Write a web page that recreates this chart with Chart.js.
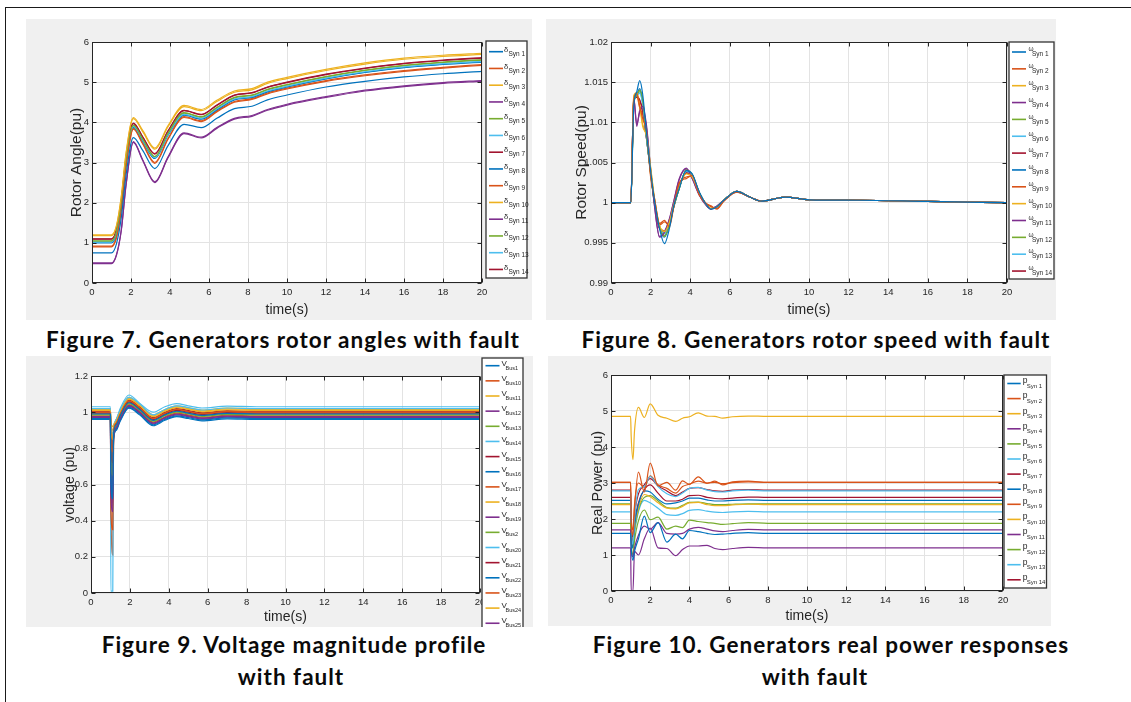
<!DOCTYPE html>
<html>
<head>
<meta charset="utf-8">
<script src="https://cdn.jsdelivr.net/npm/chart.js@4.4.0/dist/chart.umd.min.js"></script>
<style>
body { margin: 0; background: #fff; width: 1131px; height: 702px; overflow: hidden; position: relative; }
#frame { position: absolute; left: 5px; top: 7px; width: 1130px; height: 700px; border-top: 1.5px solid #1a1a1a; border-left: 1.5px solid #1a1a1a; }
canvas { position: absolute; }
.cap { position: absolute; width: 560px; line-height: 24px; text-align: center; white-space: nowrap;
       font-family: Lato, 'Open Sans', sans-serif; font-weight: bold; font-size: 22.5px; letter-spacing: 1px; color: #0a0a0a; }
</style>
</head>
<body>
<div id="frame"></div>
<canvas id="c1" width="506" height="301" style="left:26px;top:19px"></canvas>
<canvas id="c2" width="510" height="301" style="left:546px;top:19px"></canvas>
<canvas id="c3" width="507" height="271" style="left:26px;top:356px"></canvas>
<canvas id="c4" width="503" height="270" style="left:548px;top:356px"></canvas>
<div class="cap" style="left:3px;top:328px">Figure 7. Generators rotor angles with fault</div>
<div class="cap" style="left:536px;top:328px">Figure 8. Generators rotor speed with fault</div>
<div class="cap" style="left:14px;top:633px">Figure 9. Voltage magnitude profile</div>
<div class="cap" style="left:11px;top:665px">with fault</div>
<div class="cap" style="left:551px;top:633px">Figure 10. Generators real power responses</div>
<div class="cap" style="left:535px;top:665px">with fault</div>
<script>
// ---------- Figure 7: rotor angle (pu) ----------
var tAngle = [0, 1, 1.25, 1.5, 1.75, 2.12, 2.6, 3.22, 3.9, 4.72, 5.6, 6.4, 7.3, 8.2, 9, 10, 12, 14, 16, 18, 20];
var angleNames = ['Syn 1','Syn 2','Syn 3','Syn 4','Syn 5','Syn 6','Syn 7','Syn 8','Syn 9','Syn 10','Syn 11','Syn 12','Syn 13','Syn 14'];
var angleSyn1  = [0.75, 0.75, 0.97, 1.62, 2.7, 3.62, 3.3, 2.85, 3.42, 3.95, 3.87, 4.1, 4.34, 4.4, 4.56, 4.68, 4.88, 5.02, 5.13, 5.21, 5.27];
var angleSyn2  = [0.9, 0.9, 1.12, 1.8, 2.9, 3.83, 3.46, 2.98, 3.58, 4.12, 4.02, 4.26, 4.5, 4.57, 4.71, 4.83, 5.02, 5.16, 5.27, 5.35, 5.42];
var angleSyn3  = [1.2, 1.2, 1.42, 2.15, 3.25, 4.12, 3.8, 3.36, 3.92, 4.42, 4.32, 4.55, 4.78, 4.84, 5.0, 5.12, 5.32, 5.48, 5.6, 5.67, 5.72];
var angleSyn4  = [0.48, 0.48, 0.68, 1.3, 2.45, 3.5, 3.05, 2.5, 3.12, 3.72, 3.61, 3.85, 4.08, 4.15, 4.3, 4.43, 4.62, 4.78, 4.89, 4.97, 5.02];
var angleSyn5  = [1.05, 1.05, 1.27, 1.98, 3.08, 3.93, 3.58, 3.15, 3.73, 4.24, 4.14, 4.37, 4.62, 4.68, 4.82, 4.94, 5.14, 5.3, 5.42, 5.5, 5.56];
var angleSyn6  = [1.02, 1.02, 1.24, 1.95, 3.05, 3.9, 3.55, 3.12, 3.7, 4.2, 4.1, 4.33, 4.58, 4.64, 4.78, 4.9, 5.1, 5.26, 5.38, 5.46, 5.52];
var angleSyn7  = [1.1, 1.1, 1.32, 2.04, 3.14, 3.98, 3.64, 3.22, 3.79, 4.3, 4.2, 4.43, 4.68, 4.74, 4.88, 5.0, 5.2, 5.35, 5.47, 5.55, 5.61];
var angleSyn8  = [1.0, 1.0, 1.22, 1.93, 3.03, 3.88, 3.53, 3.1, 3.68, 4.18, 4.08, 4.31, 4.56, 4.62, 4.76, 4.88, 5.08, 5.24, 5.36, 5.44, 5.5];
var angleSyn9  = [0.92, 0.92, 1.14, 1.83, 2.93, 3.85, 3.48, 3.0, 3.6, 4.14, 4.04, 4.28, 4.52, 4.59, 4.73, 4.85, 5.04, 5.18, 5.29, 5.37, 5.44];
var angleSyn10 = [1.18, 1.18, 1.4, 2.12, 3.22, 4.09, 3.77, 3.33, 3.89, 4.39, 4.29, 4.52, 4.75, 4.81, 4.97, 5.09, 5.29, 5.45, 5.57, 5.64, 5.69];
var angleSyn11 = [0.5, 0.5, 0.7, 1.32, 2.47, 3.52, 3.07, 2.52, 3.14, 3.74, 3.63, 3.87, 4.1, 4.17, 4.32, 4.45, 4.64, 4.8, 4.91, 4.99, 5.04];
var angleSyn12 = [1.04, 1.04, 1.26, 1.97, 3.07, 3.92, 3.57, 3.14, 3.72, 4.23, 4.13, 4.36, 4.61, 4.67, 4.81, 4.93, 5.13, 5.29, 5.41, 5.49, 5.55];
var angleSyn13 = [1.01, 1.01, 1.23, 1.94, 3.04, 3.89, 3.54, 3.11, 3.69, 4.19, 4.09, 4.32, 4.57, 4.63, 4.77, 4.89, 5.09, 5.25, 5.37, 5.45, 5.51];
var angleSyn14 = [1.09, 1.09, 1.31, 2.03, 3.13, 3.97, 3.63, 3.21, 3.78, 4.29, 4.19, 4.42, 4.67, 4.73, 4.87, 4.99, 5.19, 5.34, 5.46, 5.54, 5.6];
var angleTicks = [0, 1, 2, 3, 4, 5, 6];

// ---------- Figure 8: rotor speed (pu) ----------
var tSpeed = [0, 1, 1.15, 1.3, 1.45, 1.6, 1.8, 2.0, 2.2, 2.45, 2.7, 2.95, 3.15, 3.45, 3.8, 4.1, 4.45, 4.8, 5.05, 5.35, 5.7, 6.35, 7.0, 7.6, 8.8, 10, 12.5, 16, 20];
var speedSyn1  = [1, 1, 1.012, 1.0138, 1.0152, 1.0135, 1.0085, 1.004, 1.0002, 0.9968, 0.9949, 0.9968, 0.9994, 1.0018, 1.004, 1.0036, 1.0014, 0.9998, 0.9992, 0.9995, 1.0003, 1.0014, 1.0007, 1.0002, 1.0007, 1.00035, 1.0003, 1.00015, 1];
var speedSyn2  = [1, 1, 1.0128, 1.0136, 1.012, 1.0105, 1.0088, 1.0032, 1.0005, 0.9974, 0.9978, 0.997, 0.9992, 1.0025, 1.003, 1.0034, 1.001, 0.9999, 0.9996, 0.9992, 1.0002, 1.0013, 1.0007, 1.0002, 1.0007, 1.00035, 1.0003, 1.00015, 1];
var speedSyn3  = [1, 1, 1.0133, 1.0137, 1.012, 1.0095, 1.0083, 1.0045, 1.0005, 0.9972, 0.9964, 0.9976, 0.9996, 1.002, 1.0036, 1.0032, 1.0012, 0.9998, 0.9993, 0.9995, 1.0003, 1.0014, 1.0007, 1.0002, 1.0007, 1.00035, 1.0003, 1.00015, 1];
var speedSyn4  = [1, 1, 1.0131, 1.0095, 1.0115, 1.012, 1.0095, 1.0042, 0.9995, 0.9957, 0.9963, 0.998, 1.0, 1.003, 1.0043, 1.003, 1.001, 0.9997, 0.9992, 0.9996, 1.0003, 1.0014, 1.0007, 1.0002, 1.0007, 1.00035, 1.0003, 1.00015, 1];
var speedSyn5  = [1, 1, 1.0122, 1.0134, 1.014, 1.0128, 1.008, 1.0036, 0.9998, 0.997, 0.9958, 0.9972, 0.9993, 1.0018, 1.0041, 1.0035, 1.0013, 0.9998, 0.99925, 0.9995, 1.0003, 1.0014, 1.0007, 1.0002, 1.0007, 1.00035, 1.0003, 1.00015, 1];
var speedSyn6  = [1, 1, 1.0125, 1.0133, 1.0136, 1.0122, 1.0078, 1.0038, 1.0, 0.997, 0.9962, 0.9974, 0.9994, 1.0019, 1.0039, 1.0034, 1.0013, 0.9998, 0.99925, 0.9995, 1.0003, 1.0014, 1.0007, 1.0002, 1.0007, 1.00035, 1.0003, 1.00015, 1];
var speedSyn7  = [1, 1, 1.013, 1.0132, 1.0128, 1.0115, 1.0078, 1.0039, 1.0, 0.9968, 0.9964, 0.9973, 0.9995, 1.002, 1.0037, 1.0033, 1.0013, 0.9998, 0.99925, 0.9995, 1.0003, 1.0014, 1.0007, 1.0002, 1.0007, 1.00035, 1.0003, 1.00015, 1];
var speedSyn8  = [1, 1, 1.0124, 1.0135, 1.0142, 1.0126, 1.0082, 1.0038, 1.0, 0.9969, 0.9957, 0.9972, 0.9993, 1.0018, 1.004, 1.0035, 1.0013, 0.9998, 0.99925, 0.9995, 1.0003, 1.0014, 1.0007, 1.0002, 1.0007, 1.00035, 1.0003, 1.00015, 1];
var speedSyn9  = [1, 1, 1.0127, 1.0133, 1.0118, 1.011, 1.0085, 1.0035, 1.0004, 0.9972, 0.9976, 0.9972, 0.9993, 1.0024, 1.0032, 1.0033, 1.0011, 0.9999, 0.9995, 0.9993, 1.0002, 1.0013, 1.0007, 1.0002, 1.0007, 1.00035, 1.0003, 1.00015, 1];
var speedSyn10 = [1, 1, 1.0132, 1.0136, 1.0122, 1.0098, 1.0082, 1.0043, 1.0004, 0.9971, 0.9965, 0.9975, 0.9995, 1.002, 1.0036, 1.0032, 1.0012, 0.9998, 0.9993, 0.9995, 1.0003, 1.0014, 1.0007, 1.0002, 1.0007, 1.00035, 1.0003, 1.00015, 1];
var speedSyn11 = [1, 1, 1.013, 1.0098, 1.0113, 1.0118, 1.0092, 1.0041, 0.9996, 0.9958, 0.9964, 0.9979, 0.9999, 1.0029, 1.0042, 1.003, 1.001, 0.9997, 0.9992, 0.9996, 1.0003, 1.0014, 1.0007, 1.0002, 1.0007, 1.00035, 1.0003, 1.00015, 1];
var speedSyn12 = [1, 1, 1.0123, 1.0134, 1.0139, 1.0127, 1.008, 1.0037, 0.9999, 0.997, 0.9959, 0.9973, 0.9993, 1.0018, 1.004, 1.0035, 1.0013, 0.9998, 0.99925, 0.9995, 1.0003, 1.0014, 1.0007, 1.0002, 1.0007, 1.00035, 1.0003, 1.00015, 1];
var speedSyn13 = [1, 1, 1.0125, 1.0134, 1.0137, 1.0123, 1.0079, 1.0038, 1.0, 0.997, 0.9961, 0.9974, 0.9994, 1.0019, 1.0039, 1.0034, 1.0013, 0.9998, 0.99925, 0.9995, 1.0003, 1.0014, 1.0007, 1.0002, 1.0007, 1.00035, 1.0003, 1.00015, 1];
var speedSyn14 = [1, 1, 1.0129, 1.0131, 1.0127, 1.0114, 1.0079, 1.0039, 1.0, 0.9968, 0.9965, 0.9973, 0.9995, 1.002, 1.0037, 1.0033, 1.0013, 0.9998, 0.99925, 0.9995, 1.0003, 1.0014, 1.0007, 1.0002, 1.0007, 1.00035, 1.0003, 1.00015, 1];

// ---------- Figure 9: bus voltage (pu) ----------
var tVolt = [0, 1, 1.02, 1.12, 1.16, 1.3, 1.5, 1.95, 2.5, 3.2, 3.8, 4.4, 5.0, 5.7, 7, 8.5, 20];
var voltNames = ['Bus1','Bus10','Bus11','Bus12','Bus13','Bus14','Bus15','Bus16','Bus17','Bus18','Bus19','Bus2','Bus20','Bus21','Bus22','Bus23','Bus24','Bus25'];
var voltBus1  = [0.99, 0.99, 0.62, 0.52, 0.88, 0.93, 0.98, 1.052, 1.015, 0.955, 0.985, 1.005, 0.995, 0.982, 0.993, 0.99, 0.99];
var voltBus10 = [1.0, 1.0, 0.86, 0.78, 0.9, 0.94, 0.99, 1.062, 1.025, 0.965, 0.995, 1.015, 1.005, 0.992, 1.003, 1.0, 1.0];
var voltBus11 = [1.01, 1.01, 0.9, 0.85, 0.91, 0.95, 1.0, 1.072, 1.035, 0.975, 1.005, 1.025, 1.015, 1.002, 1.013, 1.01, 1.01];
var voltBus12 = [0.975, 0.975, 0.55, 0.45, 0.86, 0.915, 0.965, 1.037, 1.0, 0.94, 0.97, 0.99, 0.98, 0.967, 0.978, 0.975, 0.975];
var voltBus13 = [0.985, 0.985, 0.75, 0.65, 0.87, 0.925, 0.975, 1.047, 1.01, 0.95, 0.98, 1.0, 0.99, 0.977, 0.988, 0.985, 0.985];
var voltBus14 = [1.02, 1.02, 0.92, 0.88, 0.92, 0.96, 1.01, 1.082, 1.045, 0.985, 1.015, 1.035, 1.025, 1.012, 1.023, 1.02, 1.02];
var voltBus15 = [0.995, 0.995, 0.8, 0.72, 0.89, 0.935, 0.985, 1.057, 1.02, 0.96, 0.99, 1.01, 1.0, 0.987, 0.998, 0.995, 0.995];
var voltBus16 = [0.965, 0.965, 0.65, 0.55, 0.85, 0.905, 0.955, 1.027, 0.99, 0.93, 0.96, 0.98, 0.97, 0.957, 0.968, 0.965, 0.965];
var voltBus17 = [0.98, 0.98, 0.45, 0.35, 0.86, 0.92, 0.97, 1.042, 1.005, 0.945, 0.975, 0.995, 0.985, 0.972, 0.983, 0.98, 0.98];
var voltBus18 = [1.015, 1.015, 0.93, 0.9, 0.92, 0.955, 1.005, 1.077, 1.04, 0.98, 1.01, 1.03, 1.02, 1.007, 1.018, 1.015, 1.015];
var voltBus19 = [0.97, 0.97, 0.6, 0.5, 0.86, 0.91, 0.96, 1.032, 0.995, 0.935, 0.965, 0.985, 0.975, 0.962, 0.973, 0.97, 0.97];
var voltBus2  = [0.99, 0.99, 0.72, 0.62, 0.88, 0.93, 0.98, 1.052, 1.015, 0.955, 0.985, 1.005, 0.995, 0.982, 0.993, 0.99, 0.99];
var voltBus20 = [1.03, 1.03, 0.01, 0.01, 0.86, 0.96, 1.02, 1.095, 1.05, 1.0, 1.03, 1.047, 1.035, 1.023, 1.033, 1.03, 1.03];
var voltBus21 = [1.005, 1.005, 0.87, 0.8, 0.9, 0.945, 0.995, 1.067, 1.03, 0.97, 1.0, 1.02, 1.01, 0.997, 1.008, 1.005, 1.005];
var voltBus22 = [0.96, 0.96, 0.7, 0.6, 0.85, 0.9, 0.95, 1.022, 0.985, 0.925, 0.955, 0.975, 0.965, 0.952, 0.963, 0.96, 0.96];
var voltBus23 = [1.0, 1.0, 0.5, 0.21, 0.85, 0.94, 0.99, 1.062, 1.025, 0.965, 0.995, 1.015, 1.005, 0.992, 1.003, 1.0, 1.0];
var voltBus24 = [1.02, 1.02, 0.94, 0.92, 0.93, 0.96, 1.01, 1.082, 1.045, 0.985, 1.015, 1.035, 1.025, 1.012, 1.023, 1.02, 1.02];
var voltBus25 = [0.975, 0.975, 0.58, 0.48, 0.86, 0.915, 0.965, 1.037, 1.0, 0.94, 0.97, 0.99, 0.98, 0.967, 0.978, 0.975, 0.975];

// ---------- Figure 10: real power (pu) ----------
var tPower = [0, 1, 1.03, 1.12, 1.2, 1.4, 1.7, 2.0, 2.4, 2.85, 3.3, 3.65, 4.0, 4.45, 4.9, 5.3, 5.7, 6.2, 7, 8, 20];
var powerSyn1  = [1.6, 1.6, 1.2, 0.85, 1.1, 1.45, 2.08, 1.62, 1.9, 1.36, 1.58, 1.45, 1.68, 1.65, 1.6, 1.57, 1.58, 1.6, 1.62, 1.6, 1.6];
var powerSyn2  = [3.02, 3.02, 2.0, 1.55, 2.3, 3.3, 2.75, 3.55, 2.92, 3.02, 2.8, 3.06, 2.96, 3.17, 2.99, 3.05, 2.95, 3.03, 3.05, 3.02, 3.02];
var powerSyn3  = [4.85, 4.85, 4.3, 3.65, 4.45, 5.1, 4.82, 5.2, 4.88, 4.8, 4.71, 4.8, 4.84, 4.95, 4.86, 4.85, 4.8, 4.84, 4.86, 4.85, 4.85];
var powerSyn4  = [1.7, 1.7, 1.2, 0.95, 1.2, 1.55, 1.8, 1.72, 1.9, 1.6, 1.58, 1.6, 1.72, 1.77, 1.72, 1.67, 1.65, 1.68, 1.71, 1.7, 1.7];
var powerSyn5  = [1.88, 1.88, 1.4, 1.0, 1.4, 1.95, 2.25, 1.98, 2.05, 1.72, 1.8, 1.76, 1.97, 1.93, 1.9, 1.88, 1.85, 1.87, 1.9, 1.88, 1.88];
var powerSyn6  = [2.78, 2.78, 1.8, 1.3, 2.0, 2.82, 2.9, 3.18, 2.9, 2.7, 2.62, 2.72, 2.85, 2.88, 2.8, 2.76, 2.75, 2.78, 2.8, 2.78, 2.78];
var powerSyn7  = [2.8, 2.8, 1.9, 1.5, 2.1, 2.7, 2.95, 3.12, 2.92, 2.78, 2.65, 2.75, 2.85, 2.87, 2.82, 2.78, 2.77, 2.8, 2.82, 2.8, 2.8];
var powerSyn8  = [2.52, 2.52, 1.7, 1.2, 1.8, 2.4, 2.78, 2.75, 2.55, 2.42, 2.45, 2.5, 2.58, 2.58, 2.53, 2.5, 2.5, 2.52, 2.53, 2.52, 2.52];
var powerSyn9  = [3.02, 3.02, 2.1, 1.7, 2.4, 3.0, 2.88, 3.2, 2.95, 2.85, 2.72, 2.9, 2.97, 3.05, 3.0, 3.02, 2.98, 3.01, 3.03, 3.02, 3.02];
var powerSyn10 = [2.4, 2.4, 1.7, 1.3, 1.75, 2.3, 2.68, 2.62, 2.45, 2.3, 2.28, 2.35, 2.45, 2.46, 2.4, 2.37, 2.37, 2.39, 2.41, 2.4, 2.4];
var powerSyn11 = [1.2, 1.2, 0, 0, 1.1, 1.0, 1.45, 1.75, 1.2, 1.18, 0.98, 1.15, 1.25, 1.25, 1.27, 1.18, 1.15, 1.18, 1.21, 1.2, 1.2];
var powerSyn12 = [2.42, 2.42, 1.6, 1.2, 1.7, 2.25, 2.6, 2.65, 2.5, 2.32, 2.3, 2.38, 2.46, 2.47, 2.43, 2.4, 2.4, 2.41, 2.42, 2.42, 2.42];
var powerSyn13 = [2.2, 2.2, 1.6, 1.2, 1.6, 2.2, 2.52, 2.45, 2.3, 2.12, 2.1, 2.15, 2.24, 2.26, 2.22, 2.19, 2.18, 2.2, 2.21, 2.2, 2.2];
var powerSyn14 = [2.6, 2.6, 1.8, 1.4, 1.9, 2.45, 2.82, 2.95, 2.72, 2.5, 2.5, 2.55, 2.65, 2.66, 2.6, 2.57, 2.56, 2.58, 2.61, 2.6, 2.6];

var matlab = ['#0072BD', '#D95319', '#EDB120', '#7E2F8E', '#77AC30', '#4DBEEE', '#A2142F'];
var axisColor = '#262626';
var gridColor = '#e3e3e3';
var sans = "'Liberation Sans', Arial, sans-serif";
var narrow = "'Liberation Sans Narrow', 'Liberation Sans', Arial, sans-serif";

function makeSets(t, series, names) {
  return series.map(function (s, i) {
    return {
      label: names[i],
      data: s.map(function (v, k) { return { x: t[k], y: v }; }),
      borderColor: matlab[i % 7],
      borderWidth: 1.2,
      pointRadius: 0,
      fill: false,
      cubicInterpolationMode: 'monotone'
    };
  });
}

function fmt(v) { return String(+v.toFixed(3)); }

// grey panel, white plot box, MATLAB style frame with inward ticks, boxed legend
function panelPlugin(L) {
  return {
    id: 'panel',
    beforeDraw: function (chart) {
      var ctx = chart.ctx, a = chart.chartArea;
      ctx.save();
      ctx.fillStyle = '#f0f0f0';
      ctx.fillRect(0, 0, chart.width, chart.height);
      ctx.fillStyle = '#fff';
      ctx.fillRect(a.left, a.top, a.right - a.left, a.bottom - a.top);
      ctx.restore();
    },
    afterDatasetsDraw: function (chart) {
      var ctx = chart.ctx, a = chart.chartArea, sx = chart.scales.x, sy = chart.scales.y;
      var l = Math.round(a.left) + 0.5, r = Math.round(a.right) - 0.5;
      var t = Math.round(a.top) + 0.5, b = Math.round(a.bottom) - 0.5;
      ctx.save();
      ctx.strokeStyle = axisColor;
      ctx.lineWidth = 1;
      ctx.strokeRect(l, t, r - l, b - t);
      ctx.beginPath();
      sx.ticks.forEach(function (tk) {
        var px = Math.round(sx.getPixelForValue(tk.value)) + 0.5;
        ctx.moveTo(px, b); ctx.lineTo(px, b - 4);
        ctx.moveTo(px, t); ctx.lineTo(px, t + 4);
      });
      sy.ticks.forEach(function (tk) {
        var py = Math.round(sy.getPixelForValue(tk.value)) + 0.5;
        ctx.moveTo(l, py); ctx.lineTo(l + 4, py);
        ctx.moveTo(r, py); ctx.lineTo(r - 4, py);
      });
      ctx.stroke();
      ctx.restore();
    },
    afterDraw: function (chart) {
      var ctx = chart.ctx;
      ctx.save();
      ctx.fillStyle = '#fff';
      ctx.fillRect(L.x, L.y, L.w, L.h);
      ctx.strokeStyle = '#333';
      ctx.lineWidth = 1.3;
      ctx.strokeRect(L.x, L.y, L.w, L.h);
      ctx.textBaseline = 'middle';
      chart.data.datasets.forEach(function (ds, i) {
        var yy = L.first + i * L.step;
        ctx.strokeStyle = ds.borderColor;
        ctx.lineWidth = 1.6;
        ctx.beginPath();
        ctx.moveTo(L.lx0, yy); ctx.lineTo(L.lx1, yy);
        ctx.stroke();
        ctx.fillStyle = axisColor;
        ctx.font = L.symFont;
        ctx.fillText(L.sym, L.sx, yy + L.symDy);
        ctx.font = L.subFont;
        ctx.fillText(ds.label, L.bx, yy + L.subDy);
      });
      ctx.restore();
    }
  };
}

function makeChart(id, c) {
  new Chart(document.getElementById(id), {
    type: 'line',
    data: { datasets: makeSets(c.t, c.series, c.names) },
    options: {
      responsive: false,
      animation: false,
      devicePixelRatio: 1,
      events: [],
      layout: { padding: { left: c.padL, top: c.padT, right: c.padR, bottom: 0 } },
      plugins: { legend: { display: false }, tooltip: { enabled: false } },
      scales: {
        x: {
          type: 'linear', min: 0, max: 20,
          afterFit: function (s) { s.height = c.xH; },
          ticks: { stepSize: 2, autoSkip: false, maxRotation: 0, padding: 4, color: axisColor,
                   font: { family: narrow, size: 9.5 } },
          grid: { color: gridColor, drawTicks: false },
          border: { display: false },
          title: { display: true, text: 'time(s)', color: axisColor,
                   font: { family: narrow, size: 14 }, padding: { top: 0, bottom: 1 } }
        },
        y: {
          type: 'linear', min: c.yMin, max: c.yMax,
          afterFit: function (s) { s.width = c.yW; },
          ticks: { stepSize: c.yStep, padding: 3, color: axisColor, callback: fmt,
                   font: { family: narrow, size: 9.5 } },
          grid: { color: gridColor, drawTicks: false },
          border: { display: false },
          title: { display: true, text: c.yTitle, color: axisColor,
                   font: { family: sans, size: c.yTitleSize }, padding: 0 }
        }
      }
    },
    plugins: [panelPlugin(c.legend)]
  });
}

makeChart('c1', {
  t: tAngle, names: angleNames,
  series: [angleSyn1, angleSyn2, angleSyn3, angleSyn4, angleSyn5, angleSyn6, angleSyn7,
           angleSyn8, angleSyn9, angleSyn10, angleSyn11, angleSyn12, angleSyn13, angleSyn14],
  yMin: angleTicks[0], yMax: angleTicks[angleTicks.length - 1], yStep: 1,
  yTitle: 'Rotor Angle(pu)', yTitleSize: 15.5,
  padL: 41.7, yW: 24.3, padT: 23, padR: 50, xH: 37,
  legend: { x: 460, y: 22, w: 41, h: 237, first: 32.7, step: 16.75, lx0: 463, lx1: 477,
            sym: 'δ', sx: 478, symDy: -2, symFont: "7.5px " + sans,
            bx: 482.5, subDy: 2.5, subFont: "6.5px " + narrow }
});

makeChart('c2', {
  t: tSpeed, names: angleNames,
  series: [speedSyn1, speedSyn2, speedSyn3, speedSyn4, speedSyn5, speedSyn6, speedSyn7,
           speedSyn8, speedSyn9, speedSyn10, speedSyn11, speedSyn12, speedSyn13, speedSyn14],
  yMin: 0.99, yMax: 1.02, yStep: 0.005,
  yTitle: 'Rotor Speed(pu)', yTitleSize: 15.5,
  padL: 26.7, yW: 38.3, padT: 23, padR: 49, xH: 37,
  legend: { x: 463, y: 23, w: 45, h: 237, first: 33, step: 16.85, lx0: 466, lx1: 480,
            sym: 'ω', sx: 482.5, symDy: -2.5, symFont: "6.5px " + sans,
            bx: 486, subDy: 2.5, subFont: "6.5px " + narrow }
});

makeChart('c3', {
  t: tVolt, names: voltNames,
  series: [voltBus1, voltBus10, voltBus11, voltBus12, voltBus13, voltBus14, voltBus15, voltBus16, voltBus17,
           voltBus18, voltBus19, voltBus2, voltBus20, voltBus21, voltBus22, voltBus23, voltBus24, voltBus25],
  yMin: 0, yMax: 1.2, yStep: 0.2,
  yTitle: 'voltage (pu)', yTitleSize: 14.2,
  padL: 35.5, yW: 29.5, padT: 20, padR: 53, xH: 34,
  legend: { x: 456, y: 2, w: 41, h: 400, first: 9.7, step: 15.15, lx0: 459.5, lx1: 473.5,
            sym: 'V', sx: 475.5, symDy: -2, symFont: "8px " + sans,
            bx: 479.5, subDy: 2.5, subFont: "5.5px " + narrow }
});

makeChart('c4', {
  t: tPower, names: angleNames,
  series: [powerSyn1, powerSyn2, powerSyn3, powerSyn4, powerSyn5, powerSyn6, powerSyn7,
           powerSyn8, powerSyn9, powerSyn10, powerSyn11, powerSyn12, powerSyn13, powerSyn14],
  yMin: 0, yMax: 6, yStep: 1,
  yTitle: 'Real Power (pu)', yTitleSize: 14.4,
  padL: 41.4, yW: 21.6, padT: 19, padR: 48, xH: 35,
  legend: { x: 456, y: 19, w: 42.5, h: 213, first: 27.5, step: 15.1, lx0: 459.3, lx1: 472.7,
            sym: 'p', sx: 474.7, symDy: -2.5, symFont: "8.5px " + sans,
            bx: 478.7, subDy: 2.5, subFont: "6px " + narrow }
});
</script>
</body>
</html>
